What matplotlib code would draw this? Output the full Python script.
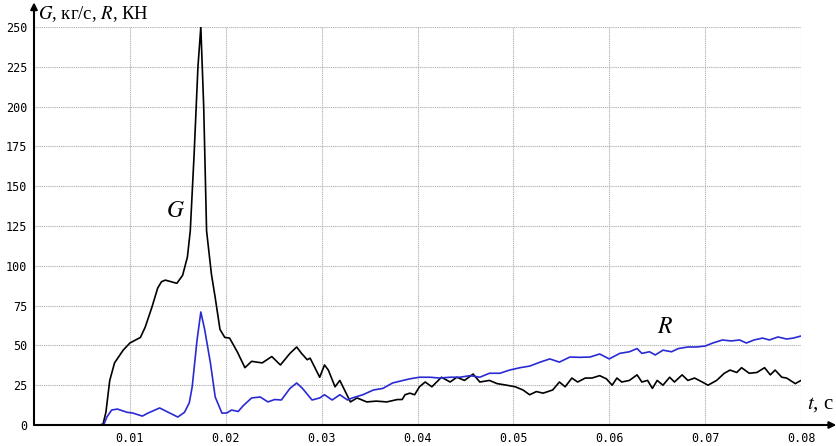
import matplotlib
matplotlib.use('Agg')
import matplotlib.pyplot as plt

plt.rcParams.update({
    'font.family': ['Liberation Serif', 'DejaVu Serif'],
    'mathtext.fontset': 'stix',
})

# G, kg/s (black curve)
G_t = [0.0, 0.0068, 0.0072, 0.0075, 0.0079, 0.0084, 0.0093, 0.0100, 0.0111, 0.0116,
       0.0123, 0.0129, 0.0133, 0.0137, 0.0143, 0.0149, 0.0155, 0.0160, 0.0163, 0.0167,
       0.0171, 0.0174, 0.0177, 0.0180, 0.0185, 0.0189, 0.0194, 0.0199, 0.0204, 0.0212,
       0.0220, 0.0227, 0.0238, 0.0248, 0.0257, 0.0267, 0.0274, 0.0279, 0.0285, 0.0288,
       0.0298, 0.0303, 0.0307, 0.0314, 0.0319, 0.0330, 0.0337, 0.0347, 0.0357, 0.0368,
       0.0379, 0.0384, 0.0387, 0.0392, 0.0397, 0.0402, 0.0408, 0.0415, 0.0420, 0.0425,
       0.0434, 0.0441, 0.0449, 0.0458, 0.0465, 0.0475, 0.0483, 0.0493, 0.0502, 0.0510,
       0.0517, 0.0524, 0.0531, 0.0541, 0.0548, 0.0554, 0.0561, 0.0567, 0.0575, 0.0582,
       0.0590, 0.0597, 0.0603, 0.0608, 0.0613, 0.0621, 0.0629, 0.0634, 0.0640, 0.0645,
       0.0650, 0.0656, 0.0663, 0.0668, 0.0676, 0.0682, 0.0689, 0.0697, 0.0703, 0.0712,
       0.0720, 0.0726, 0.0733, 0.0738, 0.0746, 0.0754, 0.0762, 0.0768, 0.0773, 0.0780,
       0.0785, 0.0794, 0.0800]
G_val = [0, 0, 0.5, 8, 28, 39, 47, 51.5, 55, 61.5,
         74, 86, 90, 91, 90, 89, 94, 105.5, 122, 170,
         225, 250, 200, 122, 95, 80, 60, 55, 54.6, 46,
         36, 40, 39, 43, 37.7, 45, 49, 45, 41, 42,
         30, 37.7, 34.5, 24, 28, 14.5, 17, 14.5, 15, 14.5,
         16, 16, 19, 20, 19, 24, 27, 24, 27, 30,
         27, 30, 28, 32, 27, 28, 26, 25, 24, 22,
         19, 21, 20, 22, 27, 24, 29.5, 27, 29.5, 29.5,
         31, 29, 25, 29.5, 27, 28, 31.5, 27, 28, 23,
         28, 25, 30, 27, 31.5, 28, 29.5, 27, 25, 28,
         32.5, 34.5, 33, 36, 32.5, 33, 36, 31.5, 34.5, 30,
         29.5, 26, 28]

# R, kN (blue curve)
R_t = [0.0, 0.0070, 0.0073, 0.0076, 0.0081, 0.0087, 0.0097, 0.0103, 0.0113, 0.0119,
       0.0131, 0.0140, 0.0150, 0.0157, 0.0162, 0.0165, 0.0170, 0.0174, 0.0178, 0.0184,
       0.0189, 0.0196, 0.0201, 0.0206, 0.0213, 0.0218, 0.0227, 0.0236, 0.0244, 0.0251,
       0.0258, 0.0267, 0.0274, 0.0280, 0.0290, 0.0298, 0.0303, 0.0311, 0.0319, 0.0327,
       0.0332, 0.0343, 0.0354, 0.0364, 0.0374, 0.0385, 0.0392, 0.0402, 0.0413, 0.0423,
       0.0434, 0.0444, 0.0455, 0.0465, 0.0475, 0.0486, 0.0496, 0.0507, 0.0517, 0.0528,
       0.0538, 0.0548, 0.0559, 0.0569, 0.0580, 0.0590, 0.0600, 0.0611, 0.0621, 0.0629,
       0.0634, 0.0642, 0.0648, 0.0656, 0.0665, 0.0672, 0.0682, 0.0691, 0.0700, 0.0708,
       0.0718, 0.0727, 0.0736, 0.0743, 0.0751, 0.0760, 0.0767, 0.0776, 0.0785, 0.0792,
       0.0800]
R_val = [0, 0, 0.5, 5, 9.4, 10, 8, 7.5, 5.6, 7.5,
         10.7, 8, 5, 8, 14, 24, 53, 71, 60, 39,
         17.6, 7.5, 7.5, 9.4, 8.5, 12, 17, 17.6, 14.5, 16,
         15.7, 23, 26.4, 23, 15.7, 17, 19, 15.7, 19, 15.7,
         17, 19, 22, 23, 26.4, 28, 29, 30, 30, 29.5,
         30, 30, 31, 30, 32.5, 32.5, 34.5, 36, 37, 39.5,
         41.5, 39.5, 42.7, 42.5, 42.7, 44.6, 41.5, 45, 46, 48,
         45, 46, 44, 47, 46, 48, 49, 49, 49.6, 51.5,
         53.4, 52.8, 53.4, 51.5, 53.4, 54.6, 53.4, 55.3, 54, 54.6,
         55.9]

x_ticks = [0.01, 0.02, 0.03, 0.04, 0.05, 0.06, 0.07, 0.08]
y_ticks = [0, 25, 50, 75, 100, 125, 150, 175, 200, 225, 250]

fig = plt.figure(figsize=(8.36, 4.46), dpi=100)
ax = fig.add_axes([34 / 836, 1 - 425 / 446, 767 / 836, 398 / 446])

# grid only inside the data box
grid_kw = dict(color='#b4b4b4', lw=0.8, ls=(0, (1, 0.7)), zorder=1)
for yv in y_ticks[1:]:
    ax.plot([0, 0.08], [yv, yv], **grid_kw)
for xv in x_ticks:
    ax.plot([xv, xv], [0, 250], **grid_kw)

ax.plot(G_t, G_val, color='black', lw=1.2, zorder=3)
ax.plot(R_t, R_val, color='#2a2ad4', lw=1.2, zorder=3)

ax.set_xlim(0, 0.08)
ax.set_ylim(0, 250)
ax.set_xticks(x_ticks)
ax.set_xticklabels([f'{v:.2f}' for v in x_ticks])
ax.set_yticks(y_ticks)
ax.set_yticklabels([str(v) for v in y_ticks])
ax.tick_params(length=0, labelsize=8.5, pad=5)
for lab in ax.get_xticklabels() + ax.get_yticklabels():
    lab.set_family('DejaVu Sans Mono')
for s in ax.spines.values():
    s.set_visible(False)

# axis arrows
ax.annotate('', xy=(0, 1.062), xytext=(0, 0), xycoords='axes fraction',
            arrowprops=dict(arrowstyle='-|>', color='black', lw=1.5, mutation_scale=10,
                            shrinkA=0, shrinkB=0), annotation_clip=False)
ax.annotate('', xy=(1.046, 0), xytext=(0, 0), xycoords='axes fraction',
            arrowprops=dict(arrowstyle='-|>', color='black', lw=1.5, mutation_scale=10,
                            shrinkA=0, shrinkB=0), annotation_clip=False)

fig.text(38 / 836, 1 - 14 / 446, r'$G$, кг/с, $R$, КН', fontsize=13.5, va='center', ha='left')
fig.text(834 / 836, 1 - 405 / 446, r'$t$, с', fontsize=15, va='center', ha='right')

ax.text(0.0148, 134, r'$G$', fontsize=17, ha='center', va='center')
ax.text(0.0658, 61.5, r'$R$', fontsize=17, ha='center', va='center')

fig.savefig('out.png', dpi=100)
